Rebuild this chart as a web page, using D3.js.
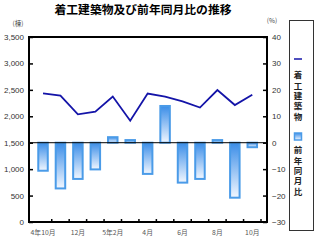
<!DOCTYPE html>
<html><head><meta charset="utf-8">
<script src="https://cdn.jsdelivr.net/npm/d3@7"></script>
<style>body{margin:0;background:#fff}svg{display:block;font-family:"Liberation Sans",Arial,sans-serif}</style>
</head><body><svg id="c" width="317" height="245"></svg>
<script>
const categories = ["4年10月","11月","12月","5年1月","2月","3月","4月","5月","6月","7月","8月","9月","10月"];
const tickLabels = ["4年10月","","12月","","5年2月","","4月","","6月","","8月","","10月"];
const buildings = [2435,2390,2037,2087,2375,1917,2430,2370,2283,2165,2497,2213,2408];
const yoy = [-10.6,-17.3,-13.7,-10.1,2.1,1.0,-11.8,13.9,-15.1,-13.7,1.0,-20.8,-1.7];
const leftTicks = [0,500,1000,1500,2000,2500,3000,3500];
const rightTicks = [-30,-20,-10,0,10,20,30,40];

const svg = d3.select("#c");
const L=29,R=267,T=37,B=222;
const x = d3.scaleBand().domain(categories).range([34.3,261]).padding(0);
const yL = d3.scaleLinear().domain([0,3500]).range([B,T]);
const yR = d3.scaleLinear().domain([-30,40]).range([B,T]);

const defs = svg.append("defs");
const g = defs.append("linearGradient").attr("id","bg").attr("x1",0).attr("y1",0).attr("x2",0).attr("y2",1);
g.append("stop").attr("offset","0%").attr("stop-color","#3a8de8");
g.append("stop").attr("offset","100%").attr("stop-color","#f2f7ff");

svg.append("text").attr("x",143).attr("y",14).attr("text-anchor","middle")
  .attr("font-size",11.8).attr("font-weight","bold").attr("font-family","'Noto Sans CJK JP',sans-serif")
  .text("着工建築物及び前年同月比の推移");
svg.append("text").attr("x",18).attr("y",26).attr("text-anchor","middle").attr("font-size",6.5).attr("fill","#444")
  .attr("font-family","'Noto Sans CJK JP',sans-serif").text("(棟)");
svg.append("text").attr("x",272).attr("y",23).attr("text-anchor","middle").attr("font-size",6.5).attr("fill","#444")
  .attr("font-family","'Noto Sans CJK JP',sans-serif").text("(%)");

// bars
const bw = 9.5;
svg.append("g").selectAll("rect").data(yoy).join("rect")
  .attr("x",(d,i)=>x(categories[i])+x.bandwidth()/2-bw/2)
  .attr("width",bw)
  .attr("y",d=>Math.min(yR(d),yR(0)))
  .attr("height",d=>Math.abs(yR(d)-yR(0)))
  .attr("fill","url(#bg)").attr("stroke","#4a9be8").attr("stroke-width",2);

// zero line
svg.append("line").attr("x1",L).attr("x2",R).attr("y1",yR(0)).attr("y2",yR(0)).attr("stroke","#000").attr("stroke-width",1);

// line
svg.append("path").datum(buildings)
  .attr("d",d3.line().x((d,i)=>x(categories[i])+x.bandwidth()/2).y(d=>yL(d)))
  .attr("fill","none").attr("stroke","#1414a8").attr("stroke-width",1.8);

// axes
const la = svg.append("g").attr("transform",`translate(${L},0)`)
  .call(d3.axisLeft(yL).tickValues(leftTicks).tickSize(-4).tickPadding(5).tickFormat(d3.format(",")));
const ra = svg.append("g").attr("transform",`translate(${R},0)`)
  .call(d3.axisRight(yR).tickValues(rightTicks).tickSize(-4).tickPadding(5));
const ba = svg.append("g").attr("transform",`translate(0,${B})`)
  .call(d3.axisBottom(x).tickSize(-3).tickPadding(8).tickFormat((d,i)=>tickLabels[i]));
[la,ra,ba].forEach(a=>{a.select(".domain").remove();a.selectAll("line").attr("stroke","#000").attr("stroke-width",1.5);});
la.selectAll("text").attr("font-size",8).attr("fill","#333");
ra.selectAll("text").attr("font-size",8).attr("fill","#333");
ba.selectAll("text").attr("font-size",6.8).attr("fill","#555").attr("font-family","'Noto Sans CJK JP',sans-serif");
ba.selectAll(".tick line").attr("transform",`translate(${x.bandwidth()/2},0)`);

// frame
svg.append("rect").attr("x",L).attr("y",T).attr("width",R-L).attr("height",B-T)
  .attr("fill","none").attr("stroke","#000").attr("stroke-width",2);

// legend
svg.append("rect").attr("x",289.5).attr("y",20.5).attr("width",24).attr("height",210)
  .attr("fill","#fff").attr("stroke","#333").attr("stroke-width",1);
svg.append("line").attr("x1",294).attr("x2",302).attr("y1",59).attr("y2",59).attr("stroke","#1414a8").attr("stroke-width",1.5);
svg.append("rect").attr("x",294.5).attr("y",133).attr("width",7).attr("height",7)
  .attr("fill","url(#bg)").attr("stroke","#4a9be8").attr("stroke-width",1.5);
const lg = svg.append("g").attr("font-family","'Noto Sans CJK JP',sans-serif").attr("font-size",8.5).attr("font-weight","bold").attr("fill","#222");
[["着工建築物",71],["前年同月比",146]].forEach(([t,y])=>
  lg.append("text").attr("x",298).attr("y",y)
    .style("writing-mode","vertical-rl").attr("letter-spacing",1.8).text(t));
</script></body></html>
